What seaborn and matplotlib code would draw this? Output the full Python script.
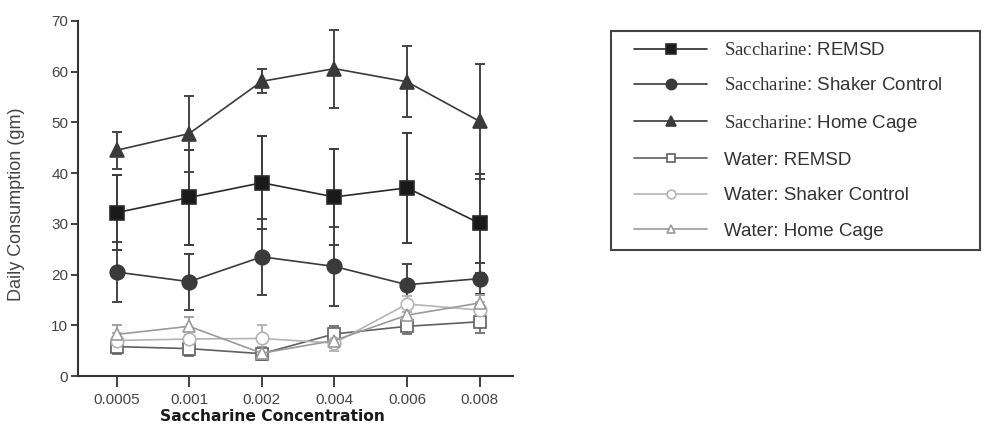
import matplotlib
matplotlib.use("Agg")
import matplotlib.pyplot as plt
import matplotlib.patches as mpatches
import seaborn as sns
import pandas as pd
import numpy as np

# ---- data ----
concentrations = ["0.0005", "0.001", "0.002", "0.004", "0.006", "0.008"]
series_names = ["Saccharine: REMSD", "Saccharine: Shaker Control", "Saccharine: Home Cage",
                "Water: REMSD", "Water: Shaker Control", "Water: Home Cage"]

sac_remsd = [32.2, 35.2, 38.1, 35.3, 37.1, 30.1]
sac_remsd_err = [7.4, 9.4, 9.2, 9.4, 10.8, 9.7]
sac_shaker = [20.5, 18.6, 23.5, 21.6, 18.0, 19.2]
sac_shaker_err = [5.9, 5.5, 7.5, 7.7, 4.0, 3.0]
sac_home = [44.5, 47.8, 58.1, 60.6, 58.0, 50.2]
sac_home_err = [3.7, 7.5, 2.4, 7.7, 7.0, 11.4]
wat_remsd = [5.8, 5.4, 4.4, 8.3, 9.8, 10.7]
wat_remsd_err = [1.5, 1.5, 1.2, 1.5, 1.5, 2.3]
wat_shaker = [7.0, 7.3, 7.4, 6.5, 14.2, 13.0]
wat_shaker_err = [1.5, 1.5, 2.6, 1.5, 1.5, 1.5]
wat_home = [8.2, 9.8, 4.5, 7.0, 12.0, 14.4]
wat_home_err = [1.8, 1.8, 1.2, 1.5, 1.8, 1.5]

values = [sac_remsd, sac_shaker, sac_home, wat_remsd, wat_shaker, wat_home]
errors = [sac_remsd_err, sac_shaker_err, sac_home_err, wat_remsd_err, wat_shaker_err, wat_home_err]

# ---- styles ----
styles = [
    dict(marker="s", color="#2a2a2a", mfc="#1a1a1a", ms=10.5, ecolor="#3a3a3a"),
    dict(marker="o", color="#3a3a3a", mfc="#3a3a3a", ms=10.5, ecolor="#444444"),
    dict(marker="^", color="#3a3a3a", mfc="#3a3a3a", ms=10, ecolor="#444444"),
    dict(marker="s", color="#606060", mfc="white", ms=9, ecolor="#777777"),
    dict(marker="o", color="#b4b4b4", mfc="white", ms=9, ecolor="#b4b4b4"),
    dict(marker="^", color="#9a9a9a", mfc="white", ms=9, ecolor="#a0a0a0"),
]

sns.set_style("white")
plt.rcParams["font.family"] = ["Liberation Sans", "DejaVu Sans"]
plt.rcParams["mathtext.fontset"] = "custom"
plt.rcParams["mathtext.rm"] = "Liberation Serif"

fig = plt.figure(figsize=(9.89, 4.33), dpi=100)
ax = fig.add_axes([0.0789, 0.1316, 0.4399, 0.82])

x = np.arange(len(concentrations))
labels = [r"$\mathrm{Saccharine}$: REMSD", r"$\mathrm{Saccharine}$: Shaker Control",
          r"$\mathrm{Saccharine}$: Home Cage", "Water: REMSD", "Water: Shaker Control",
          "Water: Home Cage"]

for name, lab, vals, errs, st in zip(series_names, labels, values, errors, styles):
    ax.errorbar(x, vals, yerr=errs, fmt="none", ecolor=st["ecolor"], elinewidth=1.4,
                capsize=3.5, capthick=1.4, zorder=2)
for name, lab, vals, errs, st in zip(series_names, labels, values, errors, styles):
    df = pd.DataFrame({"pos": x, "value": vals})
    sns.lineplot(data=df, x="pos", y="value", ax=ax, color=st["color"], marker=st["marker"],
                 markersize=st["ms"], markerfacecolor=st["mfc"], markeredgecolor=st["color"],
                 markeredgewidth=1.2, linewidth=1.2, zorder=3, label=lab)

ax.set_xlim(-0.53, 5.46)
ax.set_ylim(0, 70)
ax.set_yticks(range(0, 71, 10))
ax.set_xticks(x)
ax.set_xticklabels(concentrations)

for sp in ["top", "right"]:
    ax.spines[sp].set_visible(False)
for sp in ["left", "bottom"]:
    ax.spines[sp].set_color("#333333")
    ax.spines[sp].set_linewidth(1.5)

ax.tick_params(axis="y", direction="out", length=5, width=1.3, color="#333333",
               labelsize=11, labelcolor="#444444", pad=2, left=True)
ax.tick_params(axis="x", direction="out", length=8, width=1.3, color="#333333",
               labelsize=11, labelcolor="#444444", pad=4, bottom=True)

ax.set_ylabel("Daily Consumption (gm)", fontsize=13, color="#444444")
ax.yaxis.set_label_coords(-0.122, 0.485)
ax.set_xlabel("Saccharine Concentration", fontsize=11.2, fontweight="heavy", color="#1a1a1a",
              family=["DejaVu Sans"])
ax.xaxis.set_label_coords((272 - 78) / 434, -0.094)

leg = ax.legend(loc="upper left", bbox_to_anchor=(634 / 989, 1 - 42 / 433),
                bbox_transform=fig.transFigure, borderaxespad=0, borderpad=0,
                fontsize=13.5, handlelength=3.9, handletextpad=0.9, labelspacing=0.97,
                markerscale=0.7, frameon=False)
for t in leg.get_texts():
    t.set_color("#333333")

# legend frame box
fig.patches.append(mpatches.Rectangle((611 / 989, 1 - 250 / 433), 369 / 989, 219 / 433,
                                      transform=fig.transFigure, fill=False,
                                      edgecolor="#444444", linewidth=1.5, zorder=0))

fig.savefig("out.png", dpi=100, facecolor="white")
